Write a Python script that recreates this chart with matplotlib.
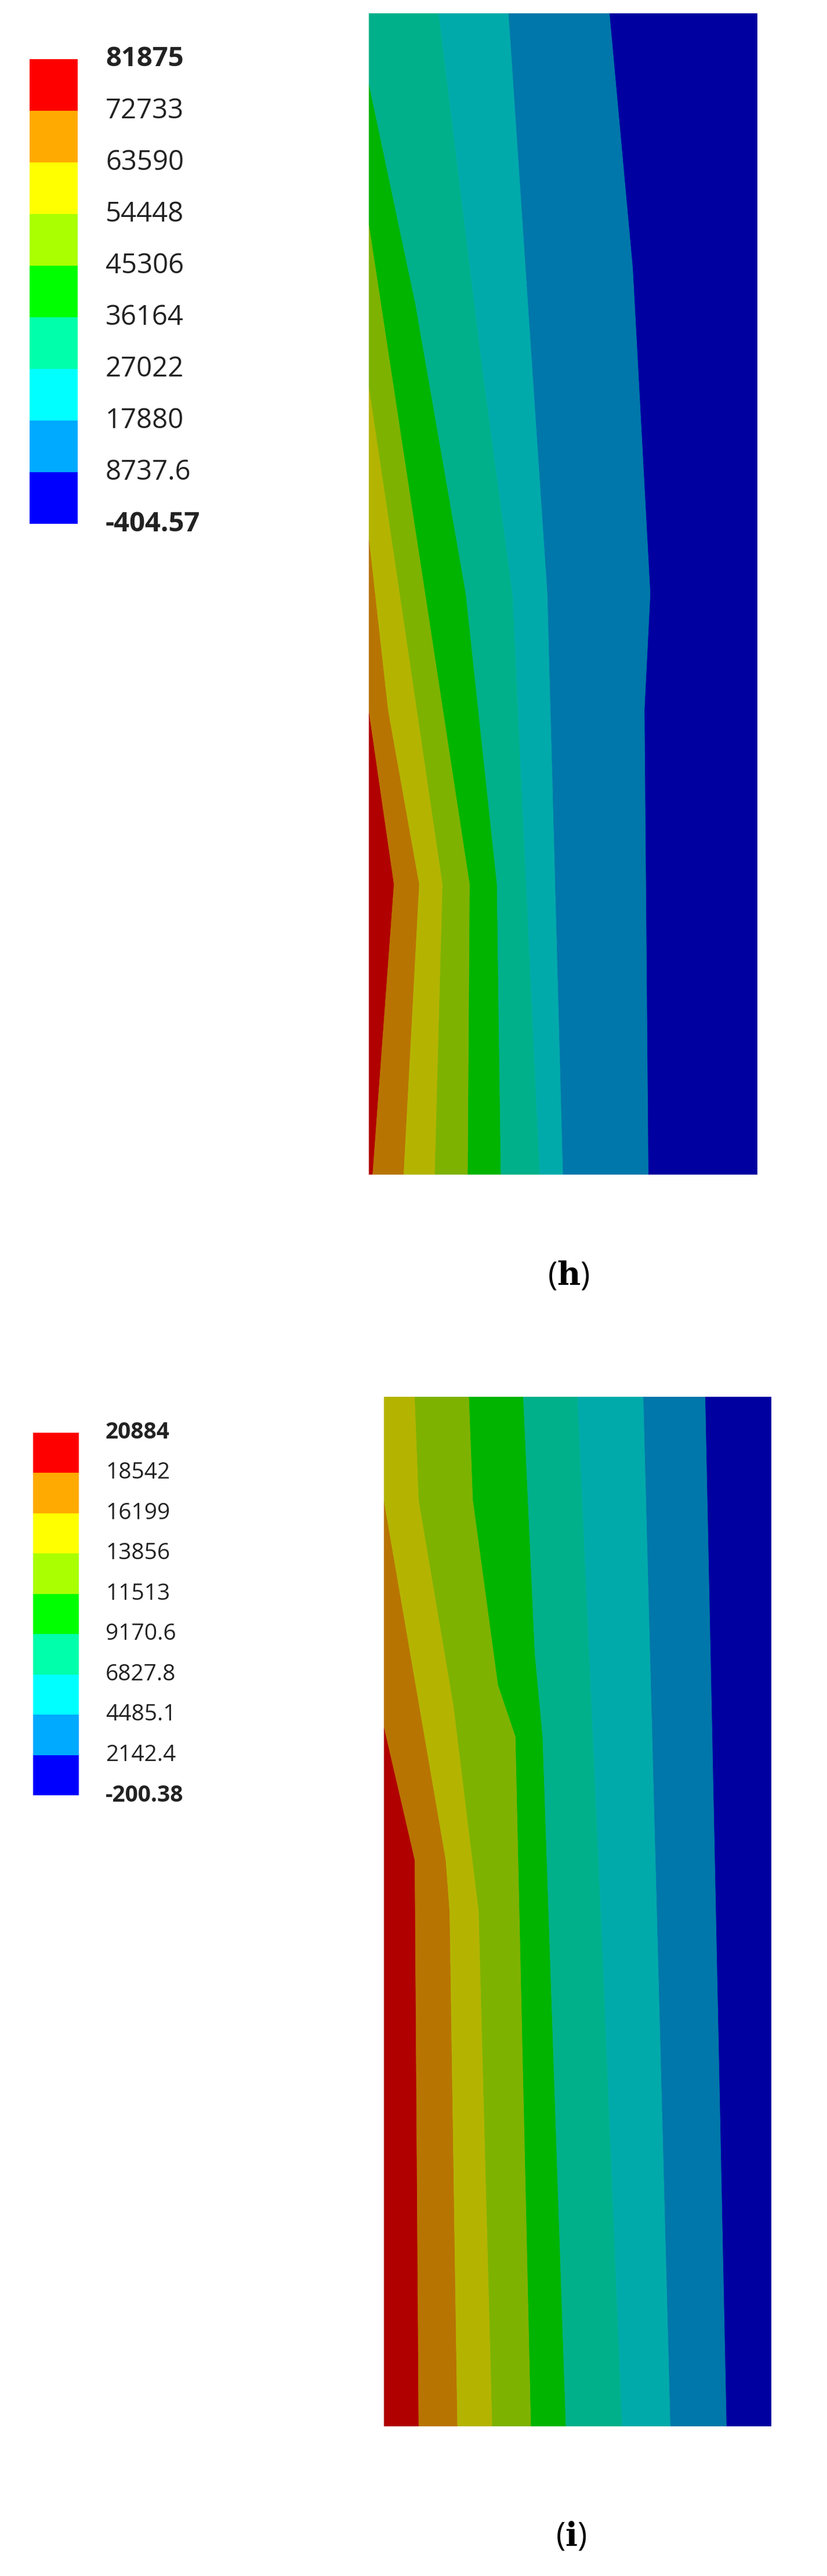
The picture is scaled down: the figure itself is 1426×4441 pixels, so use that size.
import matplotlib
matplotlib.use("Agg")
import matplotlib.pyplot as plt
from matplotlib.patches import Polygon, Rectangle

W, H = 1426, 4441

LEGEND_COLORS = ["#ff0000", "#ffaa00", "#ffff00", "#aaff00", "#00ff00",
                 "#00ffaa", "#00ffff", "#00aaff", "#0000ff"]
FIELD_COLORS = ["#b00000", "#b87400", "#b4b400", "#7eb200", "#00b400",
                "#00b08a", "#00aaaa", "#0077aa", "#0000a0"]

LABELS_H = ["81875", "72733", "63590", "54448", "45306", "36164",
            "27022", "17880", "8737.6", "-404.57"]
LABELS_I = ["20884", "18542", "16199", "13856", "11513", "9170.6",
            "6827.8", "4485.1", "2142.4", "-200.38"]

# band boundaries as (t, x) points, t = 0 top .. 1 bottom, x = 0 left .. 1 right
BOUNDS_H = [
    [(0, 0), (0.6, 0), (0.75, 0.065), (1, 0.01)],
    [(0, 0), (0.45, 0), (0.6, 0.05), (0.75, 0.13), (1, 0.09)],
    [(0, 0), (0.32, 0), (0.5, 0.08), (0.75, 0.19), (1, 0.17)],
    [(0, 0), (0.18, 0), (0.4, 0.1), (0.75, 0.26), (1, 0.255)],
    [(0, 0), (0.06, 0), (0.25, 0.12), (0.5, 0.25), (0.75, 0.33), (1, 0.34)],
    [(0, 0.18), (0.3, 0.29), (0.5, 0.37), (1, 0.44)],
    [(0, 0.36), (0.2, 0.40), (0.5, 0.46), (1, 0.50)],
    [(0, 0.62), (0.22, 0.68), (0.5, 0.725), (0.6, 0.71), (1, 0.72)],
]
BOUNDS_I = [
    [(0, 0), (0.32, 0), (0.45, 0.08), (1, 0.09)],
    [(0, 0), (0.1, 0), (0.45, 0.16), (0.5, 0.17), (1, 0.19)],
    [(0, 0.08), (0.1, 0.09), (0.3, 0.18), (0.5, 0.245), (1, 0.28)],
    [(0, 0.22), (0.1, 0.23), (0.28, 0.295), (0.33, 0.34), (1, 0.38)],
    [(0, 0.36), (0.25, 0.39), (0.33, 0.41), (1, 0.47)],
    [(0, 0.5), (0.5, 0.56), (1, 0.615)],
    [(0, 0.67), (1, 0.74)],
    [(0, 0.83), (1, 0.885)],
]

plt.rcParams["font.family"] = ["Open Sans", "DejaVu Sans"]
plt.rcParams["mathtext.fontset"] = "dejavuserif"

fig = plt.figure(figsize=(W / 100, H / 100), dpi=100)


def px_axes(x0, y0, x1, y1):
    return fig.add_axes([x0 / W, 1 - y1 / H, (x1 - x0) / W, (y1 - y0) / H])


def draw_field(rect, bounds):
    ax = px_axes(*rect)
    ax.set_xlim(0, 1)
    ax.set_ylim(1, 0)
    ax.axis("off")
    curves = [[(0, 0), (1, 0)]] + bounds + [[(0, 1), (1, 1)]]
    for k, color in enumerate(FIELD_COLORS):
        a = [(x, t) for t, x in curves[k]]
        b = [(x, t) for t, x in curves[k + 1]]
        ax.add_patch(Polygon(a + b[::-1], closed=True, facecolor=color,
                             edgecolor=color, linewidth=0.5))


def draw_legend(rect, labels, label_x, size):
    x0, y0, x1, y1 = rect
    ax = px_axes(0, 0, W, H)
    ax.set_xlim(0, W)
    ax.set_ylim(H, 0)
    ax.axis("off")
    step = (y1 - y0) / len(LEGEND_COLORS)
    for k, color in enumerate(LEGEND_COLORS):
        ax.add_patch(Rectangle((x0, y0 + k * step), x1 - x0, step,
                               facecolor=color, edgecolor="none"))
    for k, lab in enumerate(labels):
        bold = k in (0, len(labels) - 1)
        ax.text(label_x, y0 + k * step, lab, fontsize=size, va="center",
                ha="left", color="#222222",
                fontweight="bold" if bold else "normal")


draw_field((636, 23, 1306, 2025), BOUNDS_H)
draw_legend((51, 102, 134, 903), LABELS_H, 182, 34)
fig.text(980 / W, 1 - 2201 / H, r"($\mathbf{h}$)", fontsize=40,
         ha="center", va="center")

draw_field((662, 2408, 1330, 4183), BOUNDS_I)
draw_legend((57, 2470, 136, 3095), LABELS_I, 182, 28)
fig.text(985 / W, 1 - 4374 / H, r"($\mathbf{i}$)", fontsize=40,
         ha="center", va="center")

fig.savefig("out.png", dpi=100)
